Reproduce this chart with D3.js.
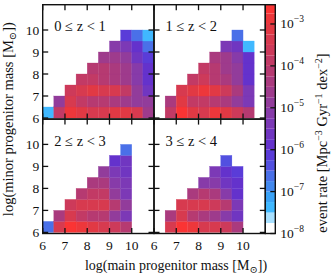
<!DOCTYPE html>
<html>
<head>
<meta charset="utf-8">
<script src="https://cdn.jsdelivr.net/npm/d3@7"></script>
<style>
  body { margin: 0; background: #fff; }
  svg { display: block; }
  text { font-family: "Liberation Serif", "DejaVu Serif", serif; fill: #111; }
</style>
</head>
<body>
<div id="chart"></div>
<script>
// --- bins (log10 solar masses) ---
const mainEdges = [6, 6.5, 7, 7.5, 8, 8.5, 9, 9.5, 10, 10.5, 11];
const minorEdges = [6, 6.5, 7, 7.5, 8, 8.5, 9, 9.5, 10];
const massTicks = [6, 7, 8, 9, 10];
const panelLabels = ["0 \u2264 z < 1", "1 \u2264 z < 2", "2 \u2264 z < 3", "3 \u2264 z < 4"];

// log10(event rate), rows = minor progenitor bin, cols = main progenitor bin
const n = null;
const rateZ0 = [
  [-7.35, -3.8, -2.8, -3.1, -3.3, -3.3, -3.1, -3.1, -3.3, -4.6],
  [n, -4.9, -3.3, -4.0, -4.2, -4.2, -4.4, -4.6, -4.8, -4.95],
  [n, n, -3.6, -3.3, -3.05, -3.3, -3.5, -3.8, -4.95, -5.7],
  [n, n, n, -4.0, -3.8, -4.2, -4.4, -4.7, -5.1, -6.0],
  [n, n, n, n, -4.2, -4.2, -4.4, -4.6, -5.1, -6.0],
  [n, n, n, n, n, -4.6, -4.7, -4.95, -5.7, -6.2],
  [n, n, n, n, n, n, -5.1, -5.5, -6.0, -6.7],
  [n, n, n, n, n, n, n, -6.1, -6.7, -7.35]
];
const rateZ1 = [
  [n, -3.8, -2.65, -3.1, -3.3, -2.95, -3.1, -3.6, -4.2, n],
  [n, -4.4, -3.1, -3.8, -3.8, -4.2, -4.4, -4.95, -5.3, n],
  [n, n, -3.3, -3.1, -2.9, -3.1, -3.6, -4.4, -5.5, n],
  [n, n, n, -3.8, -3.6, -4.2, -4.4, -4.8, -5.8, n],
  [n, n, n, n, -4.0, -4.2, -4.6, -4.95, -5.8, n],
  [n, n, n, n, n, -4.4, -4.6, -5.1, -6.0, n],
  [n, n, n, n, n, n, -5.5, -5.7, -7.35, n],
  [n, n, n, n, n, n, n, -6.7, n, n]
];
const rateZ2 = [
  [-6.7, -3.5, -2.65, -2.95, -3.1, -3.3, -3.6, -4.2, n, n],
  [n, -4.4, -3.3, -3.8, -4.2, -4.2, -4.95, -5.3, n, n],
  [n, n, -3.6, -3.3, -3.3, -3.3, -4.2, -4.95, n, n],
  [n, n, n, -4.2, -4.0, -4.0, -4.8, -5.3, n, n],
  [n, n, n, n, -4.4, -4.4, -5.1, -5.5, n, n],
  [n, n, n, n, n, -4.95, -5.3, -5.7, n, n],
  [n, n, n, n, n, n, -5.9, -5.6, n, n],
  [n, n, n, n, n, n, n, -6.7, n, n]
];
const rateZ3 = [
  [n, -3.3, -2.65, -2.95, -3.3, -3.3, -3.6, -4.4, n, n],
  [n, -4.4, -3.3, -4.2, -4.4, -4.6, -5.1, -5.7, n, n],
  [n, n, -3.5, -3.5, -3.5, -3.6, -4.2, -5.3, n, n],
  [n, n, n, -4.4, -4.2, -4.4, -5.1, -5.8, n, n],
  [n, n, n, n, -5.1, -5.1, -5.7, -6.0, n, n],
  [n, n, n, n, n, -5.5, -5.8, -6.1, n, n],
  [n, n, n, n, n, n, -6.4, n, n, n],
  [n, n, n, n, n, n, n, n, n, n]
];
const panelGrids = [rateZ0, rateZ1, rateZ2, rateZ3];

// colour bar
const cbExponents = [-8, -7, -6, -5, -4, -3];
const cmapStops = [-7.875, -7.625, -7.375, -7.125, -6.875, -6.625, -6.375, -6.125, -5.875, -5.5, -5.0, -4.5, -4.0, -3.5, -3.0, -2.625];
const cmapColors = ["#ffffff", "#a8e0ff", "#40b8ff", "#3aa2f6", "#4288ee", "#4a70e8", "#5250e0", "#5a3cd8",
                    "#6432cc", "#7638bc", "#8c3ca2", "#a43a84", "#bc3a6a", "#d23a54", "#e6383f", "#fa3434"];

// --- layout ---
const W = 332, H = 276;
const plotL = 42.7, plotT = 4.7, pw = 111.3, ph = 114.4;
const cbL = plotL + 2 * pw, cbW = 10;
const cbTop = -2.54;

const svg = d3.select("#chart").append("svg").attr("width", W).attr("height", H);

const cmap = d3.scaleLinear().domain(cmapStops).range(cmapColors).interpolate(d3.interpolateRgb);
const bandStep = 0.25;
const bandLows = d3.range(-8, -2.5 - 1e-9, bandStep);
const color = d3.scaleQuantize().domain([-8, -2.5]).range(bandLows.map(b => cmap(b + bandStep / 2)));

// --- panels ---
panelGrids.forEach((grid, p) => {
  const px = plotL + (p % 2) * pw;
  const py = plotT + Math.floor(p / 2) * ph;
  const x = d3.scaleLinear().domain([6, 11]).range([px, px + pw]);
  const y = d3.scaleLinear().domain([5.95, 11.15]).range([py + ph, py]);
  const g = svg.append("g");

  const cells = [];
  grid.forEach((row, r) => row.forEach((v, c) => { if (v !== null) cells.push({ r, c, v }); }));

  g.selectAll("rect.cell").data(cells).enter().append("rect")
    .attr("class", "cell")
    .attr("x", d => x(mainEdges[d.c]))
    .attr("width", d => x(mainEdges[d.c + 1]) - x(mainEdges[d.c]))
    .attr("y", d => y(minorEdges[d.r + 1]))
    .attr("height", d => y(minorEdges[d.r]) - y(minorEdges[d.r + 1]))
    .attr("fill", d => color(d.v))
    .attr("stroke", d => color(d.v))
    .attr("stroke-width", 0.3);

  // inward ticks on all four sides
  const tl = 5.5;
  massTicks.forEach(t => {
    g.append("line").attr("x1", x(t)).attr("x2", x(t)).attr("y1", py + ph).attr("y2", py + ph - tl);
    g.append("line").attr("x1", x(t)).attr("x2", x(t)).attr("y1", py).attr("y2", py + tl);
    g.append("line").attr("y1", y(t)).attr("y2", y(t)).attr("x1", px).attr("x2", px + tl);
    g.append("line").attr("y1", y(t)).attr("y2", y(t)).attr("x1", px + pw).attr("x2", px + pw - tl);
  });
  g.selectAll("line").attr("stroke", "#111").attr("stroke-width", 1.3);

  g.append("rect").attr("x", px).attr("y", py).attr("width", pw).attr("height", ph)
    .attr("fill", "none").attr("stroke", "#111").attr("stroke-width", 1.4);

  g.append("text").attr("x", px + 11.5).attr("y", py + 26.5)
    .attr("font-size", 14.5).text(panelLabels[p]);

  if (p % 2 === 0) {
    massTicks.forEach(t => {
      g.append("text").attr("x", px - 3.5).attr("y", y(t)).attr("dy", "0.34em")
        .attr("text-anchor", "end").attr("font-size", 13.5).text(t);
    });
  }
  if (p >= 2) {
    massTicks.forEach(t => {
      g.append("text").attr("x", x(t)).attr("y", py + ph + 16.5)
        .attr("text-anchor", "middle").attr("font-size", 13.5).text(t);
    });
  }
});

// --- colour bar ---
const cbY = d3.scaleLog().domain([1e-8, Math.pow(10, cbTop)]).range([plotT + 2 * ph, plotT]);
const cb = svg.append("g");
cb.selectAll("rect.band").data(bandLows).enter().append("rect")
  .attr("x", cbL)
  .attr("width", cbW)
  .attr("y", b => cbY(Math.pow(10, Math.min(b + bandStep, cbTop))))
  .attr("height", b => cbY(Math.pow(10, b)) - cbY(Math.pow(10, Math.min(b + bandStep, cbTop))))
  .attr("fill", b => color(b + bandStep / 2));
cb.append("rect").attr("x", cbL).attr("y", plotT).attr("width", cbW).attr("height", 2 * ph)
  .attr("fill", "none").attr("stroke", "#111").attr("stroke-width", 1.4);

cbExponents.forEach(e => {
  const yy = cbY(Math.pow(10, e));
  cb.append("line").attr("x1", cbL + cbW - 5).attr("x2", cbL + cbW).attr("y1", yy).attr("y2", yy)
    .attr("stroke", "#111").attr("stroke-width", 1.3);
  const t = cb.append("text").attr("x", cbL + cbW + 5).attr("y", yy + 4.5).attr("font-size", 13.5);
  t.append("tspan").text("10");
  t.append("tspan").attr("dy", -6).attr("font-size", 9.5).text("\u2212" + Math.abs(e));
});

// --- axis labels ---
function massLabel(sel, word) {
  sel.append("tspan").text("log(" + word + " progenitor mass [M");
  sel.append("tspan").attr("dy", 3).attr("font-size", 10).text("\u2299");
  sel.append("tspan").attr("dy", -3).text("])");
}
massLabel(svg.append("text").attr("x", 176).attr("y", 270).attr("text-anchor", "middle")
  .attr("font-size", 14), "main");
massLabel(svg.append("text").attr("transform", `translate(13,${plotT + ph}) rotate(-90)`)
  .attr("text-anchor", "middle").attr("font-size", 14.5), "minor");

const cl = svg.append("text").attr("transform", `translate(327,143) rotate(-90)`)
  .attr("text-anchor", "middle").attr("font-size", 14.5);
cl.append("tspan").text("event rate [Mpc");
cl.append("tspan").attr("dy", -5).attr("font-size", 10).text("\u22123");
cl.append("tspan").attr("dy", 5).text(" Gyr");
cl.append("tspan").attr("dy", -5).attr("font-size", 10).text("\u22121");
cl.append("tspan").attr("dy", 5).text(" dex");
cl.append("tspan").attr("dy", -5).attr("font-size", 10).text("\u22122");
cl.append("tspan").attr("dy", 5).text("]");
</script>
</body>
</html>
